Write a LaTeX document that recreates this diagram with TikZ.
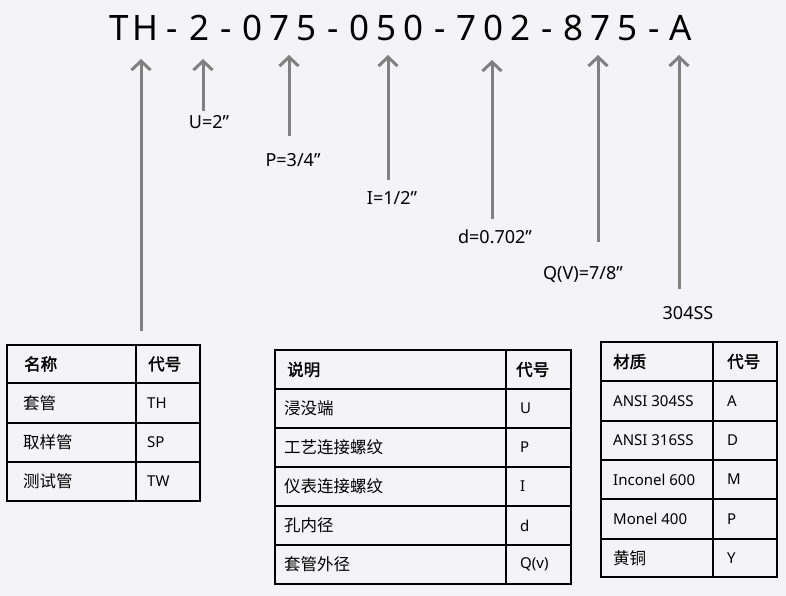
\documentclass[tikz,border=0pt]{standalone}
\usepackage{fontspec}
\setmainfont{Noto Sans}
\newfontfamily\cjk{Noto Sans CJK SC}
\newfontfamily\cjkb[FakeBold=2]{Noto Sans CJK SC}
\usetikzlibrary{arrows.meta, positioning}

\definecolor{bgcol}{RGB}{244,244,248}
\definecolor{arrowgray}{RGB}{128,128,128}

\tikzset{
  code char/.style={anchor=base, inner sep=0pt, font=\fontsize{35}{40}\selectfont},
  size label/.style={inner sep=0pt, font=\fontsize{18}{22}\selectfont},
  pointer/.style={draw=arrowgray, line width=3pt, -{Straight Barb[length=9pt, width=19pt]}},
  tablerule/.style={draw=black, line width=2pt},
  cell/.style={anchor=west, inner sep=0pt, font=\fontsize{15}{18}\selectfont},
  cjkcell/.style={cell, font=\fontsize{16.5}{18}\selectfont\cjk},
  headcell/.style={cell, font=\fontsize{16.5}{18}\selectfont\cjkb}
}

\begin{document}
\begin{tikzpicture}[x=1pt, y=-1pt]
    \fill[bgcol] (0,0) rectangle (786,596);

    % Mã sản phẩm
    \foreach \ch [count=\i] in {T,H,-,2,-,0,7,5,-,0,5,0,-,7,0,2,-,8,7,5,-,A}
        \node[code char] (c\i) at ({119+26.75*(\i-1)},41) {\ch};

    % Các mũi tên chỉ dẫn
    \foreach \nm/\x/\tail/\tip in {TH/141/331/59, U/203/111/59, P/289/136/55,
                                   I/388/180/55, d/492/219/60, Q/598/242/55, A/679/289/55} {
        \coordinate (tail\nm) at (\x,\tail);
        \coordinate (tip\nm) at (\x,\tip);
        \draw[pointer] (tail\nm) -- (tip\nm);
    }

    % Kích thước
    \node[size label] (lblU) at (209,122) {U=2”};
    \node[size label] (lblP) at (293,160) {P=3/4”};
    \node[size label] (lblI) at (392,198) {I=1/2”};
    \node[size label] (lbld) at (495,237) {d=0.702”};
    \node[size label] (lblQ) at (583,275) {Q(V)=7/8”};
    \node[size label] (lblA) at (688,313) {304SS};

    % Bảng 1
    \draw[tablerule] (7,345) rectangle (200,501);
    \foreach \y in {383,423,462}
        \draw[tablerule] (7,\y) -- (200,\y);
    \draw[tablerule] (136,345) -- (136,501);
    \node[headcell] (t1h1) at (24,364) {名称};
    \node[headcell] (t1h2) at (148,364) {代号};
    \foreach \nm/\cd/\y [count=\r] in {套管/TH/403, 取样管/SP/442.5, 测试管/TW/481.5} {
        \node[cjkcell] (t1n\r) at (23,\y) {\nm};
        \node[cell] (t1c\r) at (147,\y) {\cd};
    }

    % Bảng 2
    \draw[tablerule] (275,350) rectangle (571,584);
    \foreach \y in {389,428,467,506,545}
        \draw[tablerule] (275,\y) -- (571,\y);
    \draw[tablerule] (506,350) -- (506,584);
    \node[headcell] (t2h1) at (287,369.5) {说明};
    \node[headcell] (t2h2) at (516,369.5) {代号};
    \foreach \nm/\cd/\y [count=\r] in {浸没端/U/408.5, 工艺连接螺纹/P/447.5, 仪表连接螺纹/I/486.5,
                                      孔内径/d/525.5, 套管外径/Q(v)/564.5} {
        \node[cjkcell] (t2n\r) at (284,\y) {\nm};
        \node[cell] (t2c\r) at (520,\y) {\cd};
    }

    % Bảng 3
    \draw[tablerule] (601,342) rectangle (777,577);
    \foreach \y in {381,421,460,499,539}
        \draw[tablerule] (601,\y) -- (777,\y);
    \draw[tablerule] (713,342) -- (713,577);
    \node[headcell] (t3h1) at (613,361.5) {材质};
    \node[headcell] (t3h2) at (727,361.5) {代号};
    \foreach \nm/\cd/\y [count=\r] in {ANSI 304SS/A/401, ANSI 316SS/D/440.5, Inconel 600/M/479.5,
                                      Monel 400/P/519} {
        \node[cell] (t3n\r) at (613,\y) {\nm};
        \node[cell] (t3c\r) at (727,\y) {\cd};
    }
    \node[cjkcell] (t3n5) at (613,558) {黄铜};
    \node[cell] (t3c5) at (727,558) {Y};
\end{tikzpicture}
\end{document}
